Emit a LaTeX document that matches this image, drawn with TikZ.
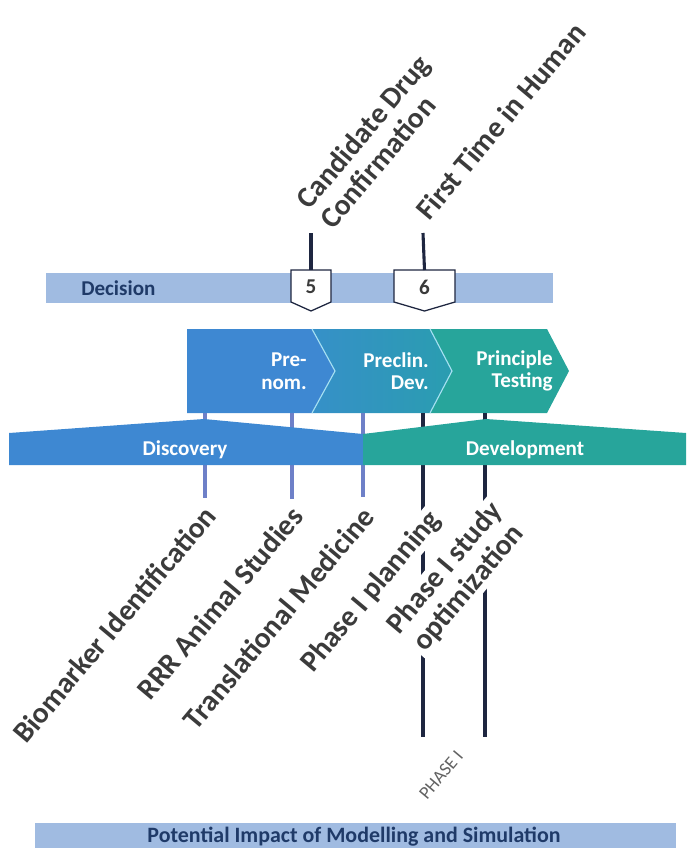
\documentclass[tikz,border=0pt]{standalone}
\usepackage{fontspec}
\setmainfont{Carlito}
\usetikzlibrary{calc}

\definecolor{decblue}{HTML}{A0BBE1}
\definecolor{navy}{HTML}{1F3A68}
\definecolor{discblue}{HTML}{3E88D2}
\definecolor{devteal}{HTML}{27A59B}
\definecolor{midblue}{HTML}{3690C8}
\definecolor{midteal}{HTML}{2A9DB0}
\definecolor{divline}{HTML}{A6E0F2}
\definecolor{stemlight}{HTML}{6E80C8}
\definecolor{stemdark}{HTML}{1E2640}
\definecolor{lblgray}{HTML}{3B3B3B}

\tikzset{
  lbl/.style={rotate=50, fill=white, inner sep=1pt, text=lblgray,
    font=\fontsize{21}{22}\selectfont\bfseries},
  bartext/.style={text=white, inner sep=0pt, font=\fontsize{15}{16}\selectfont\bfseries},
  navytext/.style={text=navy, inner sep=0pt, font=\fontsize{15}{16}\selectfont\bfseries},
  marker/.style={inner sep=0pt, text=lblgray, font=\fontsize{15}{16}\selectfont\bfseries},
  stemline/.style={line width=2.2pt, draw=#1},
}

\begin{document}
\begin{tikzpicture}[x=0.025cm, y=-0.025cm]
\useasboundingbox (0,0) rectangle (686,848);

% GLOBAL SETTINGS
\newcommand{\bandtop}{329}
\newcommand{\bandbot}{413}
\newcommand{\bandmid}{371}
% name, x, half width, number
\newcommand{\decmark}[4]{
\draw[fill=white, draw=stemdark, line width=0.9pt] (#2-#3,270) -- (#2+#3,270) -- (#2+#3,302) -- (#2,311) -- (#2-#3,302) -- cycle;
\node[marker] (#1) at (#2,287) {#4};
}

% DECISION BAR
\fill[decblue] (46,273) rectangle (553,303);
\node[navytext, anchor=west] (dec) at (81,288) {Decision};

% STAGES
\fill[discblue] (187,\bandtop) -- (312,\bandtop) -- (335,\bandmid) -- (312,\bandbot) -- (187,\bandbot) -- cycle;
\shade[left color=midblue, right color=midteal] (312,\bandtop) -- (430,\bandtop) -- (452,\bandmid) -- (430,\bandbot) -- (312,\bandbot) -- (335,\bandmid) -- cycle;
\fill[devteal] (430,\bandtop) -- (547,\bandtop) -- (569,\bandmid) -- (547,\bandbot) -- (430,\bandbot) -- (452,\bandmid) -- cycle;
\draw[divline, line width=0.8pt] (312,\bandtop) -- (335,\bandmid) -- (312,\bandbot);
\draw[divline, line width=0.8pt] (430,\bandtop) -- (452,\bandmid) -- (430,\bandbot);
\node[bartext, align=right, anchor=east] (prenom) at (307,\bandmid) {Pre-\\nom.};
\node[bartext, align=right, anchor=east] (preclin) at (429,\bandmid) {Preclin.\\Dev.};
\node[bartext, align=right, anchor=east] (poc) at (553,\bandmid) {Principle\\Testing};

% STEMS
\foreach \x/\y/\c in {205/498/stemlight, 292/499/stemlight, 363/497/stemlight, 423/737/stemdark, 485/737/stemdark} {
\draw[stemline=\c] (\x,\bandbot) coordinate (s\x) -- (\x,\y) coordinate (e\x);
}

% DISCOVERY / DEVELOPMENT
\fill[discblue] (9,465) -- (9,433) -- (204,419) -- (363,434) -- (363,465) -- cycle;
\fill[devteal] (363,465) -- (363,434) -- (486,419) -- (686,433) -- (686,465) -- cycle;
\node[bartext] (disc) at (185,450) {Discovery};
\node[bartext] (dev) at (525,450) {Development};

% MILESTONES
\decmark{m5}{311}{20}{5}
\decmark{m6}{424.5}{30.5}{6}
\coordinate (t5) at (311,233);
\coordinate (t6) at (423,233);
\draw[stemline=stemdark] (t5) -- (m5.north |- 0,270);
\draw[stemline=stemdark] (t6) -- (m6.north |- 0,270);
\node[lbl, anchor=south west, align=left] (cdc) at (334,233) {Candidate Drug\\Confirmation};
\node[lbl, anchor=south west] (fth) at (430,224) {First Time in Human};

% ACTIVITIES
\node[lbl, anchor=east] (bio) at (211,509) {Biomarker Identification};
\node[lbl, anchor=east] (rrr) at (298,510) {RRR Animal Studies};
\node[lbl, anchor=east] (tm) at (369,510) {Translational Medicine};
\node[lbl, anchor=east] (pip) at (437,514) {Phase I planning};
\node[lbl, anchor=east, align=center] (pis) at (510,515) {Phase I study\\optimization};
\node[rotate=50, text=lblgray!80, font=\fontsize{13}{13}\selectfont] (phase) at (441,775) {PHASE I};

% IMPACT BAR
\fill[decblue] (35,823) rectangle (676,848);
\node[navytext, font=\fontsize{15.6}{16}\selectfont\bfseries] (impact) at (354,837) {Potential Impact of Modelling and Simulation};

\end{tikzpicture}
\end{document}
